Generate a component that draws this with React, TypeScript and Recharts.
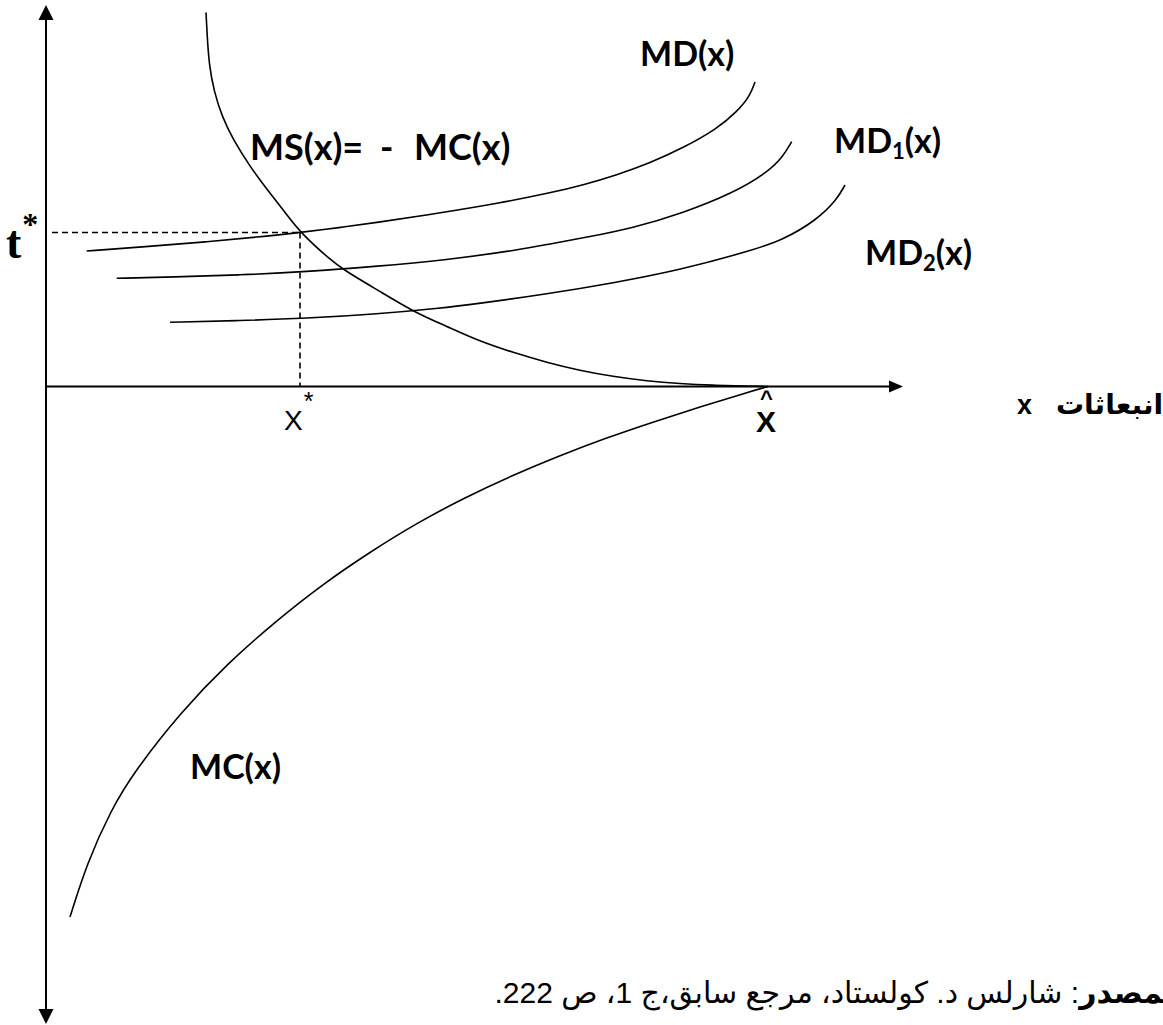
import React from "react";
import { ComposedChart, Line, Scatter, XAxis, YAxis, ReferenceLine } from "recharts";

const W = 1163;
const H = 1025;

// one unit = 10px, origin where the two axes cross
const X_DOMAIN: [number, number] = [-4.6, 111.7];
const Y_DOMAIN: [number, number] = [-63.85, 38.65];

const X_STAR = 25.4;
const T_STAR = 15.4;
const Y_AXIS_TOP = 38.15;
const Y_AXIS_BOTTOM = -63.75;
const X_AXIS_END = 85.7;

// MS(x) = -MC(x)
const msX = [16.0, 16.1, 16.3, 16.8, 17.6, 18.7, 20.4, 22.1, 23.7, 25.4, 28.4, 29.7, 33.4, 36.7, 40.1, 43.4, 46.7, 50.1, 53.4, 56.7, 60.1, 63.4, 66.7, 70.1, 72.2];
const msY = [37.4, 35.4, 32.2, 29.5, 27.0, 24.7, 22.0, 19.7, 17.7, 15.4, 12.7, 11.7, 9.5, 7.5, 6.0, 4.5, 3.4, 2.4, 1.6, 1.0, 0.55, 0.28, 0.12, 0.04, 0];

// MD(x)
const mdX = [4.07, 9.4, 16.07, 22.7, 25.4, 29.4, 32.7, 39.4, 45.4, 50.4, 53.7, 57.07, 60.4, 63.7, 67.07, 69.07, 70.4, 70.9];
const mdY = [13.55, 13.95, 14.45, 15.1, 15.4, 15.9, 16.35, 17.35, 18.35, 19.35, 20.15, 21.15, 22.35, 23.85, 25.75, 27.45, 29.05, 30.45];

// MD1(x)
const md1X = [7.07, 12.7, 19.4, 26.07, 32.7, 40.07, 47.2, 50.4, 53.7, 58.7, 63.7, 68.7, 72.07, 73.7, 74.57];
const md1Y = [10.82, 10.95, 11.15, 11.48, 11.98, 12.65, 13.65, 14.25, 14.85, 15.85, 17.35, 19.35, 21.35, 22.98, 24.48];

// MD2(x)
const md2X = [12.4, 19.4, 26.07, 32.7, 39.4, 43.4, 50.07, 56.7, 63.4, 70.4, 73.7, 77.07, 79.07, 79.9];
const md2Y = [6.42, 6.58, 6.82, 7.22, 7.82, 8.32, 9.25, 10.35, 11.65, 13.55, 14.65, 16.65, 18.65, 20.15];

// MC(x)
const mcX = [2.4, 4.1, 6.5, 8.8, 13.5, 18.2, 23.0, 27.7, 32.4, 37.1, 41.8, 46.5, 51.3, 56.0, 60.7, 65.4, 70.1, 72.2];
const mcY = [-53.05, -47.65, -42.35, -38.55, -32.55, -27.65, -23.45, -19.75, -16.55, -13.65, -11.15, -8.95, -6.95, -5.15, -3.55, -2.05, -0.6, 0];

const toPoints = (xs: number[], ys: number[]) => xs.map((x, i) => ({ x, y: ys[i] }));

const arrowTips = [
  { x: 0, y: Y_AXIS_TOP, dir: "up" },
  { x: 0, y: Y_AXIS_BOTTOM, dir: "down" },
  { x: X_AXIS_END, y: 0, dir: "right" },
];

const ArrowHead = (props: any) => {
  const { cx, cy, payload } = props;
  let pts = "";
  if (payload.dir === "up") pts = `${cx},${cy} ${cx - 7.5},${cy + 15} ${cx + 7.5},${cy + 15}`;
  else if (payload.dir === "down") pts = `${cx},${cy} ${cx - 7.5},${cy - 15} ${cx + 7.5},${cy - 15}`;
  else pts = `${cx},${cy} ${cx - 14},${cy - 6} ${cx - 14},${cy + 6}`;
  return <polygon points={pts} fill="#000" />;
};

const labelFont = "Lato, 'Open Sans', sans-serif";
const arabicFont = "'Liberation Sans', 'DejaVu Sans', sans-serif";

export default function App() {
  const curves = [
    toPoints(msX, msY),
    toPoints(mdX, mdY),
    toPoints(md1X, md1Y),
    toPoints(md2X, md2Y),
    toPoints(mcX, mcY),
  ];

  return (
    <div style={{ position: "absolute", left: 0, top: 0, width: W, height: H, overflow: "hidden", background: "#fff" }}>
      <ComposedChart width={W} height={H} margin={{ top: 0, right: 0, bottom: 0, left: 0 }}>
        <XAxis type="number" dataKey="x" domain={X_DOMAIN} allowDataOverflow hide />
        <YAxis type="number" domain={Y_DOMAIN} allowDataOverflow hide />

        <ReferenceLine segment={[{ x: 0, y: Y_AXIS_TOP - 1 }, { x: 0, y: Y_AXIS_BOTTOM + 1 }]} stroke="#000" strokeWidth={2} />
        <ReferenceLine segment={[{ x: 0, y: 0 }, { x: X_AXIS_END - 1, y: 0 }]} stroke="#000" strokeWidth={2} />
        <ReferenceLine segment={[{ x: 0.6, y: T_STAR }, { x: X_STAR, y: T_STAR }]} stroke="#000" strokeWidth={1.6} strokeDasharray="6 4" />
        <ReferenceLine segment={[{ x: X_STAR, y: T_STAR }, { x: X_STAR, y: 0 }]} stroke="#000" strokeWidth={1.6} strokeDasharray="6 4" />

        {curves.map((pts, i) => (
          <Line
            key={i}
            data={pts}
            dataKey="y"
            type="basis"
            stroke="#000"
            strokeWidth={1.6}
            dot={false}
            activeDot={false}
            isAnimationActive={false}
          />
        ))}

        <Scatter data={arrowTips} dataKey="y" shape={<ArrowHead />} isAnimationActive={false} />
      </ComposedChart>

      <svg width={W} height={H} style={{ position: "absolute", left: 0, top: 0, pointerEvents: "none" }}>
        <g fontFamily={labelFont} fontWeight={700} fontSize={34} fill="#000">
          <text x={640} y={66}>MD(x)</text>
          <text x={250} y={160} fontSize={36}>
            MS(x)=<tspan x={380}>-</tspan><tspan x={414}>MC(x)</tspan>
          </text>
          <text x={834} y={153}>
            MD<tspan fontSize={22} dy={6}>1</tspan><tspan dy={-6}>(x)</tspan>
          </text>
          <text x={865} y={265}>
            MD<tspan fontSize={22} dy={6}>2</tspan><tspan dy={-6}>(x)</tspan>
          </text>
          <text x={190} y={779}>MC(x)</text>
        </g>
        <text x={6} y={258} fontFamily="'Liberation Serif', serif" fontWeight={700} fontSize={46} fill="#000">
          t<tspan fontSize={32} dx={1} dy={-23}>*</tspan>
        </text>
        <text x={284} y={430} fontFamily="'Liberation Sans', sans-serif" fontSize={28} fill="#000">
          X<tspan fontSize={25} dx={1} dy={-20}>*</tspan>
        </text>
        <text x={756} y={432} fontFamily="'Liberation Sans', sans-serif" fontWeight={700} fontSize={30} fill="#000">
          X<tspan fontSize={22} dx={-16} dy={-26}>^</tspan>
        </text>
      </svg>

      <div
        dir="rtl"
        style={{
          position: "absolute",
          right: 0,
          top: 390,
          fontFamily: arabicFont,
          fontWeight: 700,
          lineHeight: "30px",
          whiteSpace: "nowrap",
        }}
      >
        <span style={{ fontSize: 28 }}>انبعاثات</span>
        <span style={{ display: "inline-block", width: 24 }} />
        <span style={{ fontSize: 27 }}>x</span>
      </div>

      <div
        dir="rtl"
        style={{
          position: "absolute",
          right: -22,
          top: 975,
          fontFamily: arabicFont,
          fontSize: 30,
          lineHeight: "36px",
          whiteSpace: "nowrap",
        }}
      >
        <b>المصدر</b>: شارلس د. كولستاد، مرجع سابق،ج 1، ص 222.
      </div>
    </div>
  );
}
